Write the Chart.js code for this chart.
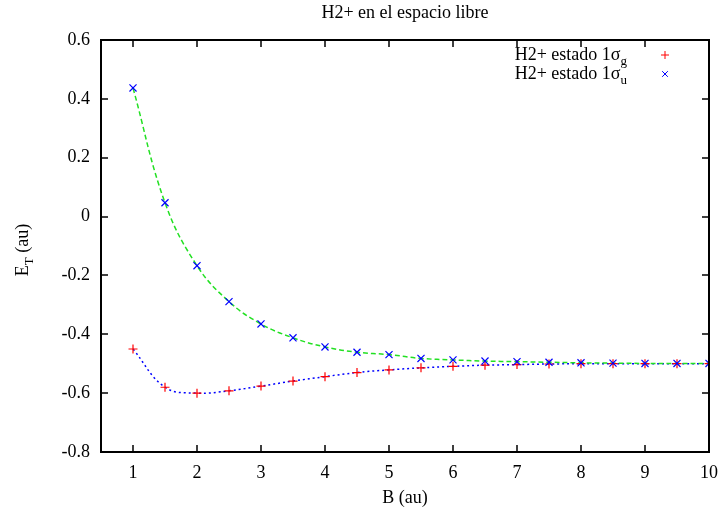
<!DOCTYPE html>
<html>
<head>
<meta charset="utf-8">
<script src="https://cdn.jsdelivr.net/npm/chart.js@4"></script>
<style>
  html, body { margin: 0; padding: 0; background: #fff; }
  #wrap { width: 728px; height: 512px; }
</style>
</head>
<body>
<div id="wrap"><canvas id="grafico" width="728" height="512"></canvas></div>
<script>
// datos
const bValores = [1, 1.5, 2, 2.5, 3, 3.5, 4, 4.5, 5, 5.5, 6, 6.5, 7, 7.5, 8, 8.5, 9, 9.5, 10];
const energiaSigmaG = [-0.450, -0.580, -0.600, -0.592, -0.576, -0.559, -0.544, -0.530, -0.521, -0.514, -0.509, -0.505, -0.503, -0.501, -0.500, -0.500, -0.500, -0.500, -0.500];
const energiaSigmaU = [0.437, 0.047, -0.167, -0.289, -0.365, -0.412, -0.443, -0.461, -0.469, -0.482, -0.487, -0.491, -0.493, -0.495, -0.497, -0.498, -0.499, -0.499, -0.499];
const xTicks = [1, 2, 3, 4, 5, 6, 7, 8, 9, 10];
const yTicks = [-0.8, -0.6, -0.4, -0.2, 0, 0.2, 0.4, 0.6];
const etiquetas = ['H2+ estado 1σ', 'H2+ estado 1σ'];
const subindices = ['g', 'u'];

const FUENTE = '"Liberation Serif", "DejaVu Serif", serif';
const TAM = 18;

function puntos(ys) {
    return bValores.map((x, i) => ({ x: x, y: ys[i] }));
}

// texto con subindice (y resto opcional despues)
function textoSub(ctx, txt, sub, resto, x, y, size, align) {
    const chico = Math.round(size * 0.72);
    ctx.font = size + 'px ' + FUENTE;
    const w1 = ctx.measureText(txt).width;
    const w3 = ctx.measureText(resto).width;
    ctx.font = chico + 'px ' + FUENTE;
    const w2 = ctx.measureText(sub).width;
    const total = w1 + w2 + w3;
    let x0 = x;
    if (align === 'right') x0 = x - total;
    if (align === 'center') x0 = x - total / 2;
    ctx.textAlign = 'left';
    ctx.textBaseline = 'alphabetic';
    ctx.font = size + 'px ' + FUENTE;
    ctx.fillText(txt, x0, y);
    ctx.font = chico + 'px ' + FUENTE;
    ctx.fillText(sub, x0 + w1, y + size * 0.3);
    ctx.font = size + 'px ' + FUENTE;
    ctx.fillText(resto, x0 + w1 + w2, y);
}

const marcoGnuplot = {
    id: 'marcoGnuplot',
    afterDatasetsDraw(chart) {
        const ctx = chart.ctx;
        const a = chart.chartArea;
        const sx = chart.scales.x, sy = chart.scales.y;
        ctx.save();
        ctx.strokeStyle = '#000';
        ctx.lineWidth = 2;
        ctx.strokeRect(a.left, a.top, a.right - a.left, a.bottom - a.top);
        ctx.lineWidth = 1.5;
        ctx.beginPath();
        xTicks.forEach(v => {
            const px = Math.round(sx.getPixelForValue(v));
            ctx.moveTo(px, a.bottom); ctx.lineTo(px, a.bottom - 7);
            ctx.moveTo(px, a.top); ctx.lineTo(px, a.top + 7);
        });
        yTicks.forEach(v => {
            const py = Math.round(sy.getPixelForValue(v));
            ctx.moveTo(a.left, py); ctx.lineTo(a.left + 7, py);
            ctx.moveTo(a.right, py); ctx.lineTo(a.right - 7, py);
        });
        ctx.stroke();

        ctx.fillStyle = '#000';
        // titulo
        ctx.font = TAM + 'px ' + FUENTE;
        ctx.textAlign = 'center';
        ctx.textBaseline = 'middle';
        ctx.fillText('H2+ en el espacio libre', (a.left + a.right) / 2, 13);
        // eje x
        ctx.fillText('B (au)', (a.left + a.right) / 2, 498);
        // eje y
        ctx.save();
        ctx.translate(28, (a.top + a.bottom) / 2 + 4);
        ctx.rotate(-Math.PI / 2);
        textoSub(ctx, 'E', 'T', ' (au)', 0, 0, TAM, 'center');
        ctx.restore();

        // leyenda
        const colores = ['#ff0000', '#0000ff'];
        const estilos = ['cross', 'crossRot'];
        [0, 1].forEach(i => {
            const yy = 55 + i * 19;
            ctx.fillStyle = '#000';
            textoSub(ctx, etiquetas[i], subindices[i], '', 627, yy + 5, TAM, 'right');
            ctx.strokeStyle = colores[i];
            ctx.lineWidth = 1;
            Chart.helpers.drawPoint(ctx, { pointStyle: estilos[i], radius: 4, rotation: 0, borderWidth: 1 }, 665, yy);
        });
        ctx.restore();
    }
};

const ctx = document.getElementById('grafico').getContext('2d');

const config = {
    type: 'scatter',
    data: {
        datasets: [
            {
                label: etiquetas[0] + subindices[0],
                data: puntos(energiaSigmaG),
                showLine: false,
                pointStyle: 'cross',
                pointRadius: 4.5,
                pointBorderColor: '#ff0000',
                pointBorderWidth: 1.2,
                order: 1
            },
            {
                label: etiquetas[1] + subindices[1],
                data: puntos(energiaSigmaU),
                showLine: false,
                pointStyle: 'crossRot',
                pointRadius: 5,
                pointBorderColor: '#0000ff',
                pointBorderWidth: 1.2,
                order: 0
            },
            {
                label: 'ajuste g',
                data: puntos(energiaSigmaG),
                showLine: true,
                pointRadius: 0,
                borderColor: '#0000ff',
                borderWidth: 1.5,
                borderDash: [2, 3],
                tension: 0.4,
                order: 3
            },
            {
                label: 'ajuste u',
                data: puntos(energiaSigmaU),
                showLine: true,
                pointRadius: 0,
                borderColor: '#22e022',
                borderWidth: 1.5,
                borderDash: [5, 3],
                tension: 0.4,
                order: 2
            }
        ]
    },
    options: {
        responsive: false,
        animation: false,
        layout: { padding: { top: 40, right: 15, left: 0, bottom: 0 } },
        plugins: {
            legend: { display: false },
            title: { display: false },
            tooltip: { enabled: false }
        },
        scales: {
            x: {
                type: 'linear',
                min: 0.5,
                max: 10,
                grid: { display: false, drawTicks: false },
                border: { display: false },
                afterFit: s => { s.height = 60; },
                afterBuildTicks: s => { s.ticks = xTicks.map(v => ({ value: v })); },
                ticks: {
                    color: '#000',
                    padding: 10,
                    font: { family: FUENTE, size: TAM },
                    maxRotation: 0
                }
            },
            y: {
                type: 'linear',
                min: -0.8,
                max: 0.6,
                grid: { display: false, drawTicks: false },
                border: { display: false },
                afterFit: s => { s.width = 101; },
                afterBuildTicks: s => { s.ticks = yTicks.map(v => ({ value: v })); },
                ticks: {
                    color: '#000',
                    padding: 11,
                    font: { family: FUENTE, size: TAM },
                    callback: v => (Math.abs(v) < 1e-9 ? '0' : v.toFixed(1))
                }
            }
        }
    },
    plugins: [marcoGnuplot]
};

const chart = new Chart(ctx, config);
</script>
</body>
</html>
